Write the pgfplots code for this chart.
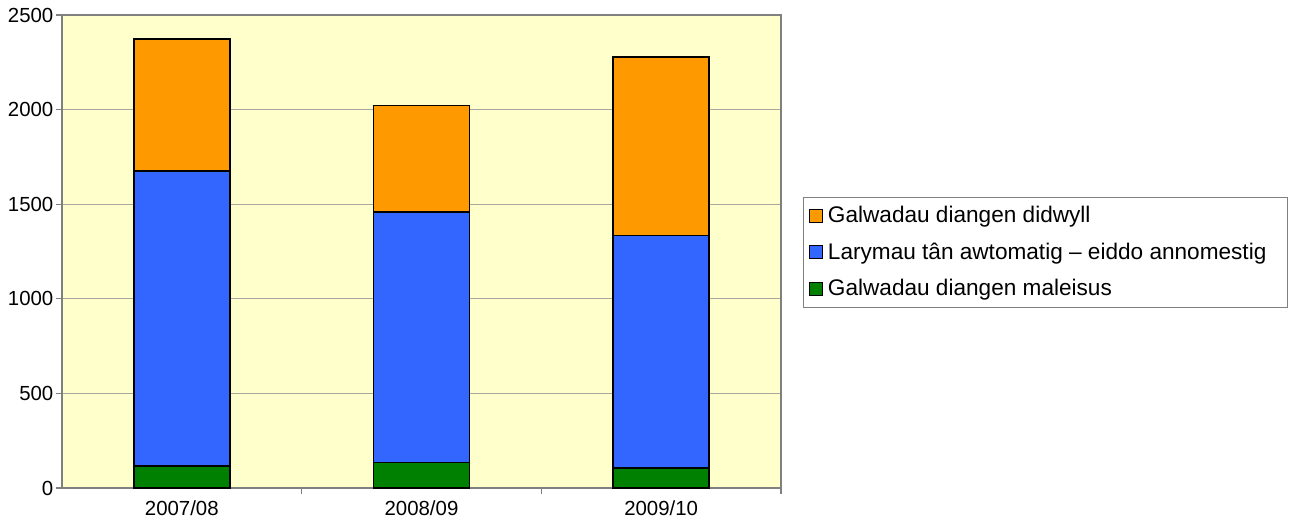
\documentclass[border=0pt]{standalone}
\usepackage{fontspec}
\setmainfont{Liberation Sans}
\usepackage{pgfplots}
\pgfplotsset{compat=1.18}
\definecolor{bgy}{HTML}{FFFFCC}
\definecolor{cor}{HTML}{FF9900}
\definecolor{cbl}{HTML}{3366FF}
\definecolor{cgr}{HTML}{008000}
\definecolor{gridc}{HTML}{A8A8A0}
\definecolor{axc}{HTML}{808080}
\begin{document}
\begin{tikzpicture}
\begin{axis}[
  scale only axis,
  width=359.5pt, height=236.5pt,
  ybar stacked,
  bar width=0.4,
  xmin=-0.5, xmax=2.5,
  ymin=0, ymax=2500,
  ytick={0,500,1000,1500,2000,2500},
  xtick={0,1,2},
  xticklabels={2007/08,2008/09,2009/10},
  minor xtick={0.5,1.5,2.5},
  major x tick style={draw=none},
  tick align=outside,
  tick pos=left,
  major tick length=3pt,
  minor tick length=3pt,
  tick style={axc, line width=0.6pt},
  minor x tick style={axc, line width=0.6pt},
  axis line style={axc, line width=0.6pt},
  ymajorgrids,
  major grid style={gridc, line width=0.6pt},
  axis background/.style={fill=bgy},
  ticklabel style={font=\fontsize{10.2}{12}\selectfont},
  /pgf/number format/assume math mode=true,
  /pgf/number format/1000 sep={},
  xticklabel style={yshift=0pt},
  yticklabel style={xshift=2.2pt},
  reverse legend,
  legend cell align=left,
  legend style={at={(1.0306,0.498)}, anchor=west, draw=axc, line width=0.6pt,
    font=\fontsize{11.3}{13.5}\selectfont, row sep=4.6pt, inner sep=2.5pt,
    nodes={inner xsep=2.7pt}},
  legend image code/.code={\draw[#1, line width=0.5pt] (0pt,-3.25pt) rectangle (6.5pt,3.25pt);},
]
\coordinate (O) at (rel axis cs:0,0);
\addplot[fill=cgr, draw=black, line width=0.75pt] coordinates {(0,116) (1,134) (2,106)};
\addlegendentry{Galwadau diangen maleisus}
\addplot[fill=cbl, draw=black, line width=0.75pt] coordinates {(0,1559) (1,1326) (2,1228)};
\addlegendentry{Larymau tân awtomatig – eiddo annomestig\kern5.5pt\mbox{}}
\addplot[fill=cor, draw=black, line width=0.75pt] coordinates {(0,697) (1,561) (2,944)};
\addlegendentry{Galwadau diangen didwyll}
\end{axis}
\pgfresetboundingbox
\path (O) ++(-31pt,-19.5pt) rectangle ++(648.5pt,263.5pt);
\end{tikzpicture}
\end{document}
